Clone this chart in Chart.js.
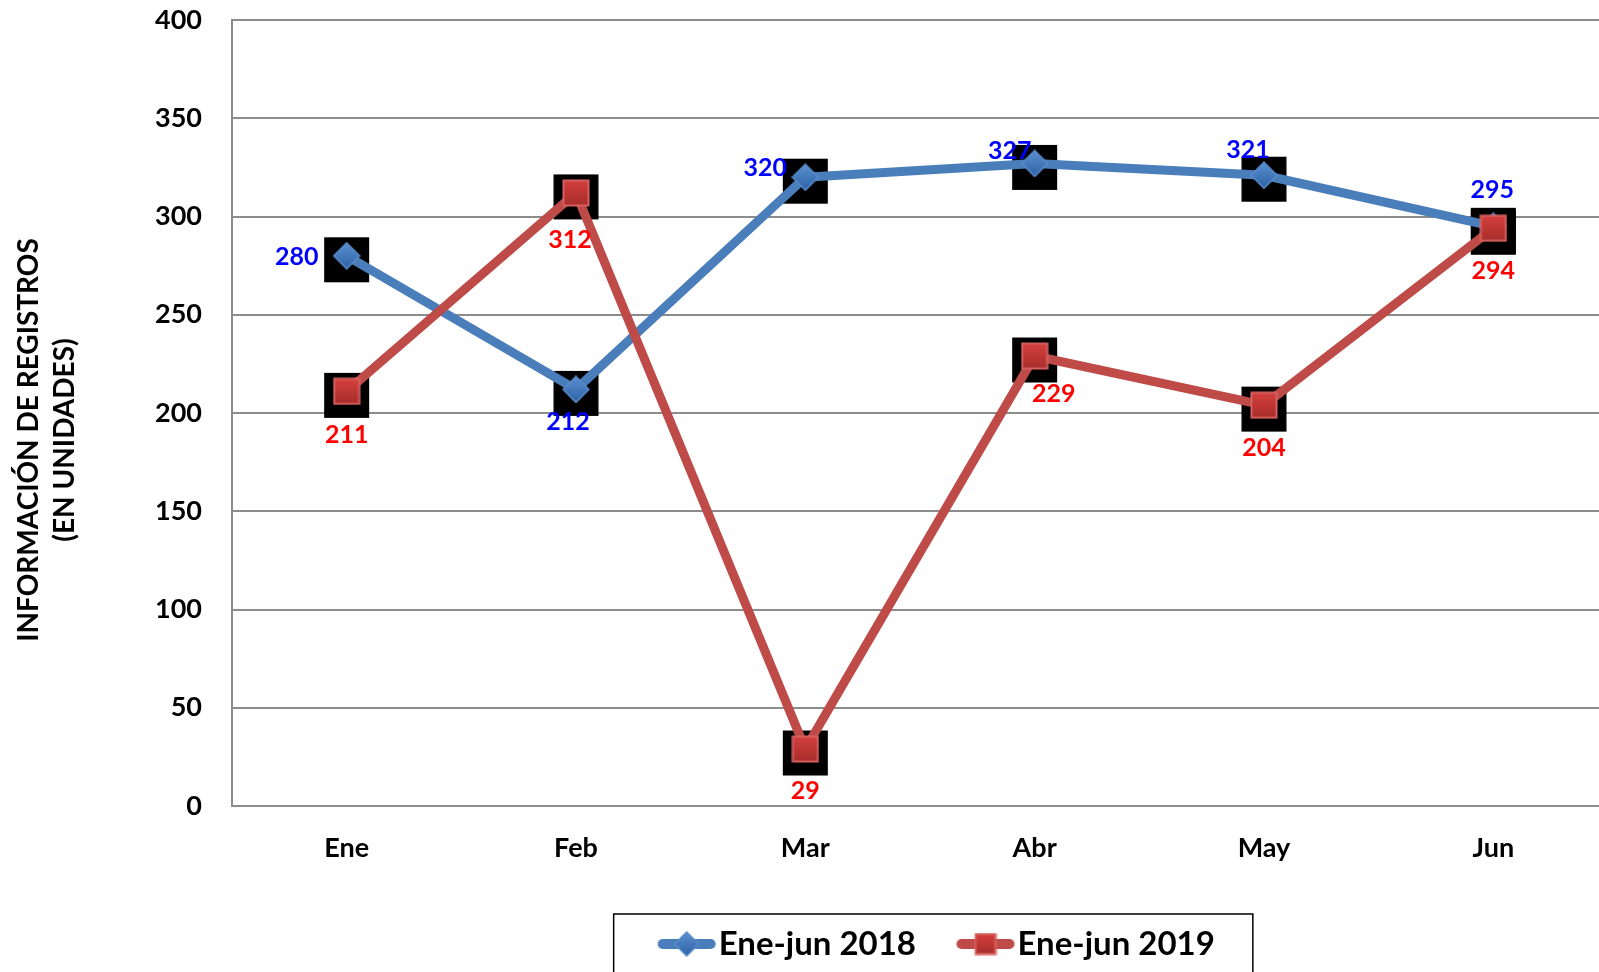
<!DOCTYPE html>
<html>
<head>
<meta charset="utf-8">
<script src="https://cdn.jsdelivr.net/npm/chart.js@4/dist/chart.umd.min.js"></script>
<style>
html,body{margin:0;padding:0;background:#fff;overflow:hidden;}
#wrap{width:1612px;height:1000px;}
</style>
</head>
<body>
<div id="wrap"><canvas id="c" width="1612" height="1000"></canvas></div>
<script>
const categories = ['Ene','Feb','Mar','Abr','May','Jun'];
const seriesNames = ['Ene-jun 2018','Ene-jun 2019'];
const values2018 = [280,212,320,327,321,295];
const values2019 = [211,312,29,229,204,294];
const yTicks = [0,50,100,150,200,250,300,350,400];
const yTitle = ['INFORMACIÓN DE REGISTROS','(EN UNIDADES)'];

const FONT = 'Lato, "Open Sans", sans-serif';
const BLUE = '#4A7EBB', RED = '#BE4B48';

function markerImg(kind, size) {
  const c = document.createElement('canvas');
  c.width = size; c.height = size;
  const g = c.getContext('2d');
  const m = size/2;
  if (kind === 'diamond') {
    const r = size/2 - 1;
    const gr = g.createLinearGradient(0,0,0,size);
    gr.addColorStop(0,'#5d91d2'); gr.addColorStop(1,'#2b61a4');
    g.beginPath(); g.moveTo(m,m-r); g.lineTo(m+r,m); g.lineTo(m,m+r); g.lineTo(m-r,m); g.closePath();
    g.fillStyle = gr; g.fill(); g.lineWidth = 1.5; g.strokeStyle = '#5a8ccc'; g.stroke();
  } else {
    const s = size - 3;
    const gr = g.createLinearGradient(0,0,0,size);
    gr.addColorStop(0,'#d8413f'); gr.addColorStop(1,'#a42c2a');
    g.fillStyle = gr; g.fillRect(1.5,1.5,s,s);
    g.lineWidth = 2; g.strokeStyle = '#d6615e'; g.strokeRect(1.5,1.5,s,s);
  }
  return c;
}
function legendImg(kind, color) {
  const c = document.createElement('canvas');
  c.width = 60; c.height = 34;
  const g = c.getContext('2d');
  g.strokeStyle = color; g.lineWidth = 10; g.lineCap = 'round';
  g.beginPath(); g.moveTo(6,17); g.lineTo(54,17); g.stroke();
  const mk = markerImg(kind, kind === 'diamond' ? 26 : 23);
  g.drawImage(mk, 30 - mk.width/2, 17 - mk.height/2);
  return c;
}

const blueMarker = markerImg('diamond', 28);
const redMarker = markerImg('square', 28);
const legendImgs = [legendImg('diamond', BLUE), legendImg('square', RED)];

// label placement per point (dx, dy from point center)
const labelPlacement = [
  [[-50,1],[-8,33],[-40,-9],[-25,-13],[-16,-25],[-1,-36]],
  [[0,44],[-6,47],[0,42],[19,38],[0,43],[0,43]]
];
const labelColors = ['#0000FF','#FF0000'];

const decor = {
  id: 'decor',
  afterLayout(chart) {
    const lg = chart.legend;
    if (lg) { lg.left += 139; lg.right += 139; }
    const ys = chart.scales.y;
    if (ys && !ys._titleShifted) {
      const orig = ys.drawTitle.bind(ys);
      ys.drawTitle = function() {
        const ctx = chart.ctx;
        ctx.save(); ctx.translate(0, 27); orig(); ctx.restore();
      };
      ys._titleShifted = true;
    }
  },
  beforeDatasetsDraw(chart) {
    const ctx = chart.ctx;
    ctx.save();
    ctx.fillStyle = '#000';
    chart.data.datasets.forEach((ds, i) => {
      const meta = chart.getDatasetMeta(i);
      meta.data.forEach(p => {
        ctx.fillRect(p.x - 22.5, p.y - 18.5, 45, 45);
      });
    });
    ctx.restore();
  },
  afterDatasetsDraw(chart) {
    const ctx = chart.ctx;
    ctx.save();
    ctx.font = 'bold 25px ' + FONT;
    ctx.textAlign = 'center';
    ctx.textBaseline = 'middle';
    chart.data.datasets.forEach((ds, i) => {
      const meta = chart.getDatasetMeta(i);
      ctx.fillStyle = labelColors[i];
      meta.data.forEach((p, j) => {
        const off = labelPlacement[i][j];
        ctx.fillText(String(ds.data[j]), p.x + off[0], p.y + off[1]);
      });
    });
    ctx.restore();
  },
  afterDraw(chart) {
    const lg = chart.legend;
    if (!lg || !lg.legendHitBoxes || !lg.legendHitBoxes.length) return;
    const hb = lg.legendHitBoxes;
    const ctx = chart.ctx;
    const left = hb[0].left - 14.5 - 43;
    const right = hb[hb.length-1].left + hb[hb.length-1].width + 38;
    const top = hb[0].top + hb[0].height/2 - 30;
    ctx.save();
    ctx.strokeStyle = '#000';
    ctx.lineWidth = 1.5;
    ctx.strokeRect(left, top, right - left, chart.height + 20 - top);
    ctx.restore();
  }
};

new Chart(document.getElementById('c'), {
  type: 'line',
  data: {
    labels: categories,
    datasets: [
      {
        label: seriesNames[0], data: values2018, order: 1,
        borderColor: BLUE, backgroundColor: BLUE, borderWidth: 9,
        pointStyle: blueMarker, pointRadius: 14, pointHoverRadius: 14,
        tension: 0, fill: false, borderCapStyle: 'butt', borderJoinStyle: 'round'
      },
      {
        label: seriesNames[1], data: values2019, order: 0,
        borderColor: RED, backgroundColor: RED, borderWidth: 9,
        pointStyle: redMarker, pointRadius: 14, pointHoverRadius: 14,
        tension: 0, fill: false, borderCapStyle: 'butt', borderJoinStyle: 'round'
      }
    ]
  },
  options: {
    responsive: false,
    animation: false,
    events: [],
    layout: { autoPadding: false, padding: { left: 0, right: 4, top: 20, bottom: 29.5 } },
    plugins: {
      tooltip: { enabled: false },
      legend: {
        position: 'bottom',
        labels: {
          usePointStyle: true,
          pointStyleWidth: 31,
          padding: 54,
          color: '#000',
          font: { family: FONT, size: 33, weight: 'bold' },
          generateLabels(chart) {
            return chart.data.datasets.map((ds, i) => ({
              text: ds.label, datasetIndex: i, pointStyle: legendImgs[i],
              fillStyle: ds.borderColor, strokeStyle: ds.borderColor, lineWidth: 0, hidden: false, fontColor: '#000'
            }));
          }
        }
      }
    },
    scales: {
      x: {
        offset: true,
        grid: { display: false, drawTicks: false },
        border: { display: true, color: '#8c8c8c', width: 2 },
        ticks: { color: '#000', padding: 26, font: { family: FONT, size: 27, weight: 'bold' } },
        afterFit(s) { s.height = 67.5; s.paddingLeft = 0; s.paddingRight = 0; }
      },
      y: {
        min: 0, max: 400,
        afterBuildTicks(s) { s.ticks = yTicks.map(v => ({ value: v })); },
        grid: { color: '#8c8c8c', lineWidth: 2, drawTicks: false },
        border: { display: true, color: '#8c8c8c', width: 2 },
        ticks: { color: '#000', padding: 30, font: { family: FONT, size: 27, weight: 'bold' } },
        title: {
          display: true, text: yTitle, color: '#000',
          font: { family: FONT, size: 28, weight: 'bold', lineHeight: 36/28 },
          padding: { top: 11, bottom: 0 }
        },
        afterFit(s) { s.width = 232; s.paddingTop = 0; s.paddingBottom = 0; }
      }
    }
  },
  plugins: [decor]
});
</script>
</body>
</html>
